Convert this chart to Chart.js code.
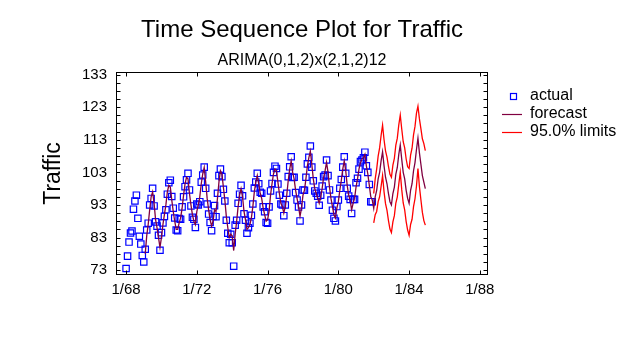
<!DOCTYPE html>
<html>
<head>
<meta charset="utf-8">
<script src="https://cdn.jsdelivr.net/npm/chart.js@4.4.1/dist/chart.umd.min.js"></script>
<style>
  html, body { margin: 0; padding: 0; background: #fff; }
</style>
</head>
<body>
<canvas id="chart" width="632" height="348"></canvas>
<script>
// monthly traffic, 1/68 .. 12/81
const actual = [
  73.5, 77.3, 81.6, 84.4, 85.0, 91.7, 94.2, 96.0, 88.9, 83.4, 81.0, 77.5,
  75.5, 79.4, 85.3, 87.4, 93.0, 95.0, 98.1, 92.7, 87.8, 86.5, 83.7, 79.1,
  84.5, 87.5, 89.5, 91.5, 96.3, 99.8, 100.6, 95.6, 92.0, 89.0, 85.3, 85.1,
  88.8, 88.6, 92.4, 95.5, 98.6, 100.7, 102.7, 97.6, 92.7, 89.2, 88.6, 86.1,
  93.3, 93.0, 94.0, 100.0, 102.2, 104.6, 98.1, 93.3, 90.2, 87.6, 85.1, 89.5,
  92.8, 89.4, 96.6, 102.0, 104.0, 101.7, 97.8, 94.2, 88.3, 84.3, 81.4, 84.0,
  81.4, 74.2, 86.8, 88.3, 93.5, 96.3, 99.0, 95.8, 90.3, 88.3, 84.3, 86.0,
  87.4, 89.8, 93.3, 98.2, 100.0, 102.7, 99.5, 96.9, 96.6, 92.4, 90.9, 87.6,
  87.4, 92.4, 97.3, 99.6, 103.0, 104.9, 104.2, 99.4, 96.0, 93.3, 93.0, 89.7,
  93.0, 96.6, 101.7, 104.7, 107.8, 101.4, 101.5, 96.8, 94.5, 92.4, 88.1, 93.0,
  97.6, 97.5, 101.5, 105.6, 107.6, 111.1, 104.6, 100.4, 97.3, 96.6, 95.7, 92.9,
  96.0, 98.8, 101.7, 102.2, 106.8, 102.0, 97.6, 94.5, 91.4, 88.9, 88.1, 92.5,
  94.5, 98.1, 100.8, 104.6, 107.8, 102.7, 98.1, 95.7, 94.7, 90.4, 94.7, 94.7,
  99.8, 101.2, 104.0, 106.3, 106.8, 107.5, 109.2, 105.0, 103.0, 99.3, 94.0, 94.0
];

// one-step fitted values (first 13 months lost to differencing)
const fitted = [
  null, null, null, null, null, null, null, null, null, null, null, null,
  null, 78.0, 83.5, 87.0, 91.5, 95.5, 97.0, 93.5, 88.5, 86.0, 83.0, 80.0,
  83.0, 87.0, 90.0, 93.0, 97.0, 99.0, 98.5, 94.5, 91.0, 88.0, 85.5, 85.5,
  87.5, 89.0, 92.0, 96.0, 99.5, 101.5, 101.0, 96.5, 93.0, 90.0, 88.0, 87.0,
  91.0, 93.0, 95.5, 99.5, 102.5, 104.5, 100.0, 95.0, 91.5, 88.5, 86.5, 88.0,
  91.5, 91.0, 95.0, 100.0, 103.5, 102.5, 98.5, 94.5, 89.5, 86.0, 83.0, 84.0,
  83.5, 79.0, 84.0, 88.0, 92.5, 96.0, 98.0, 95.5, 91.0, 88.5, 85.5, 86.0,
  87.0, 89.0, 92.5, 97.0, 100.0, 102.0, 99.5, 96.5, 95.0, 92.0, 90.0, 88.0,
  88.5, 91.0, 96.0, 99.5, 102.5, 104.0, 103.5, 100.0, 96.5, 93.5, 92.5, 90.5,
  92.5, 96.0, 100.5, 104.0, 106.5, 103.0, 101.0, 97.5, 95.0, 92.5, 89.5, 92.0,
  96.0, 97.5, 101.0, 105.0, 107.5, 109.5, 105.5, 101.0, 98.0, 96.5, 95.0, 93.5,
  95.5, 98.0, 101.5, 103.5, 106.0, 103.0, 98.5, 95.0, 92.5, 90.0, 89.0, 92.0,
  94.0, 97.5, 100.5, 104.0, 106.5, 103.5, 99.0, 96.0, 94.5, 91.5, 93.5, 95.0,
  98.5, 101.0, 104.0, 106.0, 107.0, 107.5, 108.5, 105.0, 102.5, 99.0, 95.5, 94.5
];

// forecasts 1/82 .. 12/84
const forecast = [
  92.0, 95.5, 97.5, 101.0, 103.0, 106.5, 109.3, 105.0, 101.5, 99.5, 96.5, 94.0,
  93.0, 96.5, 98.5, 102.5, 104.5, 108.5, 111.4, 107.0, 103.0, 101.0, 97.5, 95.0,
  93.5, 97.5, 99.5, 103.5, 106.0, 110.0, 113.5, 109.0, 105.5, 102.0, 100.0, 98.0
];
const upper = [
  96.5, 101.0, 104.0, 108.0, 110.5, 114.3, 117.5, 113.0, 109.6, 107.7, 104.8, 102.4,
  101.5, 105.2, 107.3, 111.4, 113.5, 117.6, 120.6, 116.3, 112.4, 110.5, 107.1, 104.7,
  104.2, 108.3, 110.4, 114.5, 117.1, 121.2, 123.3, 119.4, 116.4, 113.3, 111.8, 109.7
];
const lower = [
  87.5, 90.0, 91.0, 94.0, 95.5, 98.7, 102.0, 97.0, 93.4, 91.3, 88.2, 85.6,
  84.5, 87.8, 89.7, 93.6, 95.5, 99.4, 103.0, 97.7, 93.6, 91.5, 87.9, 85.3,
  83.7, 87.0, 88.6, 92.5, 94.9, 98.8, 104.2, 98.6, 94.6, 90.7, 88.2, 86.8
];

const startYear = 1968;
const xTicks = [1968, 1972, 1976, 1980, 1984, 1988];
const yTicks = [73, 83, 93, 103, 113, 123, 133];

const FONT = '"Liberation Sans", Arial, sans-serif';
const BLUE = '#0000ff';
const MAROON = '#800040';
const RED = '#ff0000';

function monthX(i) {
  return startYear + i / 12;
}

const actualPts = actual.map((v, i) => ({ x: monthX(i), y: v }));
const linePts = fitted.concat(forecast).map((v, i) => ({ x: monthX(i), y: v }));
const upperPts = upper.map((v, i) => ({ x: monthX(actual.length + i), y: v }));
const lowerPts = lower.map((v, i) => ({ x: monthX(actual.length + i), y: v }));

const framePlugin = {
  id: 'frame',
  afterDatasetsDraw(chart) {
    const ctx = chart.ctx;
    const a = chart.chartArea;
    const x = chart.scales.x, y = chart.scales.y;
    const l = Math.round(a.left) + 0.5, r = Math.round(a.right) - 0.5;
    const t = Math.round(a.top) + 0.5, b = Math.round(a.bottom) - 0.5;
    ctx.save();
    ctx.strokeStyle = '#000';
    ctx.lineWidth = 1;
    ctx.strokeRect(l, t, r - l, b - t);
    ctx.beginPath();
    for (let v = yTicks[0]; v <= yTicks[yTicks.length - 1]; v += 2.5) {
      const py = Math.round(y.getPixelForValue(v)) + 0.5;
      ctx.moveTo(l, py); ctx.lineTo(l + 4, py);
      ctx.moveTo(r, py); ctx.lineTo(r - 4, py);
    }
    xTicks.forEach(v => {
      const px = Math.round(x.getPixelForValue(v)) + 0.5;
      ctx.moveTo(px, b); ctx.lineTo(px, b - 4);
      ctx.moveTo(px, t); ctx.lineTo(px, t + 4);
    });
    ctx.stroke();
    ctx.restore();
  },
  afterDraw(chart) {
    // legend on the right
    const ctx = chart.ctx;
    ctx.save();
    ctx.font = '16px ' + FONT;
    ctx.fillStyle = '#000';
    ctx.textBaseline = 'middle';
    ctx.fillText('actual', 530, 96);
    ctx.fillText('forecast', 530, 114);
    ctx.fillText('95.0% limits', 530, 132);
    ctx.lineWidth = 1.2;
    ctx.strokeStyle = BLUE;
    ctx.strokeRect(510.5, 93.5, 6, 6);
    ctx.strokeStyle = MAROON;
    ctx.beginPath(); ctx.moveTo(502, 114.5); ctx.lineTo(522, 114.5); ctx.stroke();
    ctx.strokeStyle = RED;
    ctx.beginPath(); ctx.moveTo(502, 132.5); ctx.lineTo(522, 132.5); ctx.stroke();
    ctx.restore();
  }
};

new Chart(document.getElementById('chart'), {
  type: 'line',
  data: {
    datasets: [
      {
        label: 'actual',
        data: actualPts,
        showLine: false,
        pointStyle: 'rect',
        pointRadius: 4.5,
        borderColor: BLUE,
        backgroundColor: 'rgba(0,0,0,0)',
        pointBorderWidth: 1.2,
        order: 2
      },
      {
        label: 'forecast',
        data: linePts,
        borderColor: MAROON,
        borderWidth: 1.3,
        pointRadius: 0,
        tension: 0,
        spanGaps: false,
        order: 1
      },
      {
        label: 'upper',
        data: upperPts,
        borderColor: RED,
        borderWidth: 1.3,
        pointRadius: 0,
        tension: 0,
        order: 1
      },
      {
        label: 'lower',
        data: lowerPts,
        borderColor: RED,
        borderWidth: 1.3,
        pointRadius: 0,
        tension: 0,
        order: 1
      }
    ]
  },
  options: {
    responsive: false,
    animation: false,
    devicePixelRatio: 1,
    layout: { padding: { left: 32, right: 144, top: 0, bottom: 0 } },
    plugins: {
      legend: { display: false },
      tooltip: { enabled: false },
      title: {
        display: true,
        fullSize: false,
        text: 'Time Sequence Plot for Traffic',
        color: '#000',
        font: { family: FONT, size: 24, weight: 'normal' },
        padding: { top: 16, bottom: 6 }
      },
      subtitle: {
        display: true,
        fullSize: false,
        text: 'ARIMA(0,1,2)x(2,1,2)12',
        color: '#000',
        font: { family: FONT, size: 16, weight: 'normal' },
        padding: { top: 0, bottom: 2 }
      }
    },
    scales: {
      x: {
        type: 'linear',
        min: 1967.43,
        max: 1988.46,
        grid: { display: false, drawTicks: false },
        border: { display: false },
        afterBuildTicks: axis => { axis.ticks = xTicks.map(v => ({ value: v })); },
        afterFit: axis => { axis.height = 73; },
        ticks: {
          autoSkip: false,
          maxRotation: 0,
          padding: 6,
          color: '#000',
          font: { family: FONT, size: 15 },
          callback: v => '1/' + String(v).slice(2)
        }
      },
      y: {
        min: 71.5,
        max: 133.8,
        grid: { display: false, drawTicks: false },
        border: { display: false },
        afterBuildTicks: axis => { axis.ticks = yTicks.map(v => ({ value: v })); },
        afterFit: axis => { axis.width = 84; },
        ticks: {
          padding: 9,
          color: '#000',
          font: { family: FONT, size: 15 }
        },
        title: {
          display: true,
          text: 'Traffic',
          color: '#000',
          font: { family: FONT, size: 23 },
          padding: { top: 8, bottom: 0 }
        }
      }
    }
  },
  plugins: [framePlugin]
});
</script>
</body>
</html>
